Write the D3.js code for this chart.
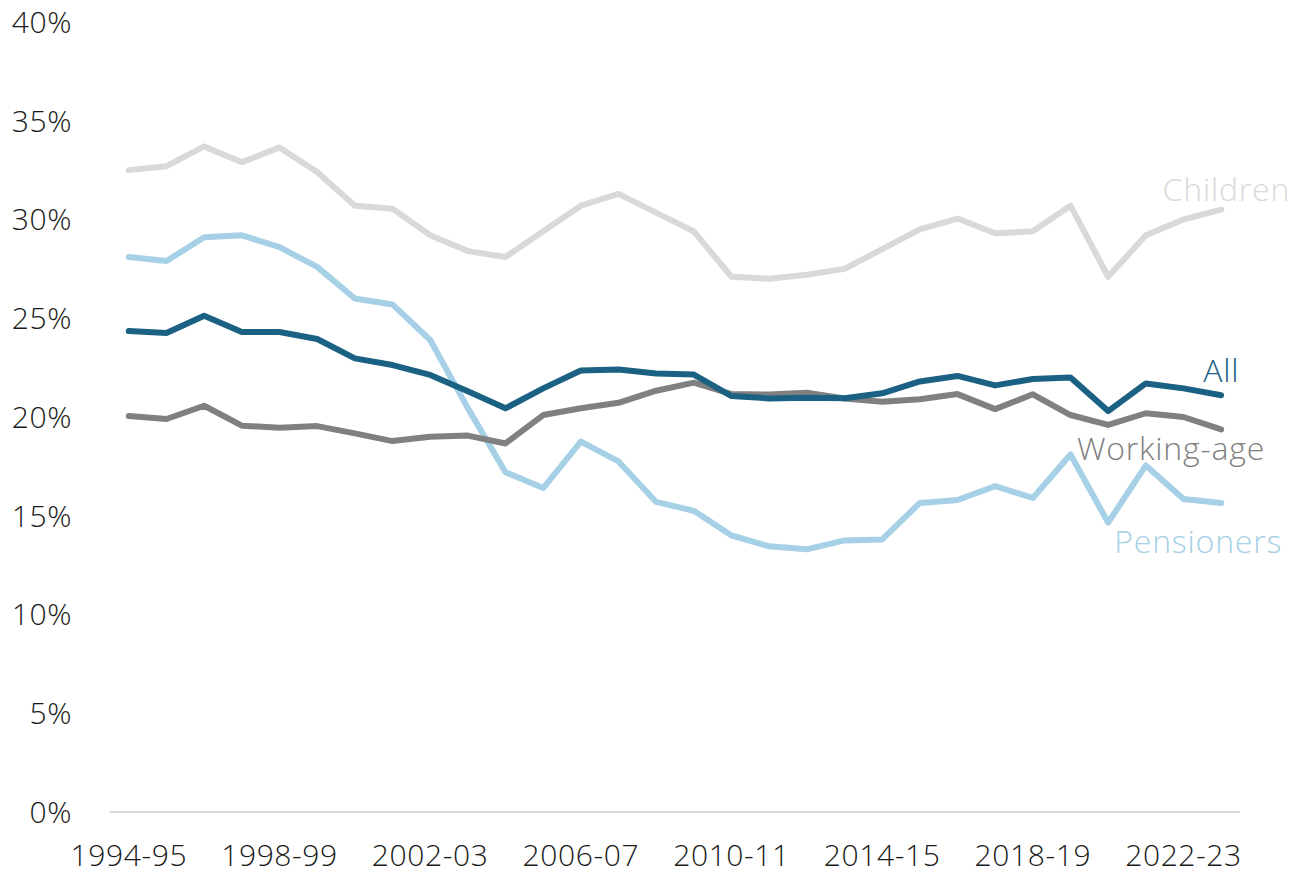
<!DOCTYPE html>
<html>
<head>
<meta charset="utf-8">
<script src="https://cdn.jsdelivr.net/npm/d3@7"></script>
<style>
  body { margin: 0; background: #fff; }
  text { font-family: "Open Sans", Lato, sans-serif; font-weight: 300; }
</style>
</head>
<body>
<div id="chart"></div>
<script>
"use strict";

// financial years
var years = ["1994-95","1995-96","1996-97","1997-98","1998-99","1999-00","2000-01","2001-02",
  "2002-03","2003-04","2004-05","2005-06","2006-07","2007-08","2008-09","2009-10","2010-11",
  "2011-12","2012-13","2013-14","2014-15","2015-16","2016-17","2017-18","2018-19","2019-20",
  "2020-21","2021-22","2022-23","2023-24"];

var tickYears = ["1994-95","1998-99","2002-03","2006-07","2010-11","2014-15","2018-19","2022-23"];
var yTicks = [0, 5, 10, 15, 20, 25, 30, 35, 40];

var children = [32.5,32.7,33.7,32.9,33.65,32.4,30.7,30.55,29.2,28.4,28.1,29.4,30.7,31.3,30.35,29.4,
  27.1,27.0,27.2,27.5,28.5,29.5,30.05,29.3,29.4,30.7,27.1,29.2,30.0,30.5];
var all = [24.35,24.25,25.13,24.3,24.3,23.95,22.97,22.63,22.13,21.3,20.44,21.45,22.35,22.4,22.2,22.15,
  21.06,20.94,20.97,20.95,21.2,21.8,22.08,21.6,21.92,22.0,20.3,21.7,21.45,21.1];
var workingAge = [20.05,19.9,20.57,19.56,19.46,19.54,19.17,18.78,19.0,19.06,18.66,20.1,20.44,20.72,21.33,21.74,
  21.16,21.14,21.23,20.94,20.77,20.9,21.16,20.4,21.15,20.1,19.6,20.19,20.0,19.37];
var pensioners = [28.1,27.9,29.1,29.2,28.6,27.6,26.0,25.7,23.9,20.45,17.2,16.4,18.75,17.75,15.7,15.25,
  14.0,13.45,13.3,13.75,13.8,15.65,15.8,16.5,15.9,18.1,14.65,17.55,15.85,15.65];

var series = [
  {name: "Children", values: children, color: "#d9d9d9", dx: 69, dy: -9, anchor: "end"},
  {name: "Pensioners", values: pensioners, color: "#a6d0e6", dx: 61, dy: 50, anchor: "end"},
  {name: "Working-age", values: workingAge, color: "#808080", dx: 44, dy: 31, anchor: "end"},
  {name: "All", values: all, color: "#1a6184", dx: -18, dy: -13, anchor: "start"}
];

var width = 1303, height = 874;
var margin = {top: 22, right: 63, bottom: 62, left: 110};

var svg = d3.select("#chart").append("svg")
    .attr("width", width)
    .attr("height", height);

var x = d3.scalePoint()
    .domain(years)
    .range([margin.left, width - margin.right])
    .padding(0.5);

var y = d3.scaleLinear()
    .domain([0, 40])
    .range([height - margin.bottom, margin.top]);

// baseline
svg.append("line")
    .attr("x1", margin.left)
    .attr("x2", width - margin.right)
    .attr("y1", y(0))
    .attr("y2", y(0))
    .attr("stroke", "#d9d9d9")
    .attr("stroke-width", 2);

// y labels
svg.selectAll(".ylab")
    .data(yTicks)
  .enter().append("text")
    .attr("class", "ylab")
    .attr("x", 72)
    .attr("y", function(d) { return y(d); })
    .attr("dy", "0.36em")
    .attr("text-anchor", "end")
    .attr("font-size", 30)
    .attr("letter-spacing", 0.6)
    .attr("fill", "#1a1a1a")
    .text(function(d) { return d + "%"; });

// x labels
svg.selectAll(".xlab")
    .data(tickYears)
  .enter().append("text")
    .attr("class", "xlab")
    .attr("x", function(d) { return x(d); })
    .attr("y", 866)
    .attr("text-anchor", "middle")
    .attr("font-size", 30)
    .attr("letter-spacing", 0.6)
    .attr("fill", "#1a1a1a")
    .text(function(d) { return d; });

var line = d3.line()
    .x(function(d, i) { return x(years[i]); })
    .y(function(d) { return y(d); });

series.forEach(function(s) {
  svg.append("path")
      .datum(s.values)
      .attr("fill", "none")
      .attr("stroke", s.color)
      .attr("stroke-width", 6)
      .attr("stroke-linejoin", "round")
      .attr("stroke-linecap", "round")
      .attr("d", line);

  var last = s.values.length - 1;
  svg.append("text")
      .attr("x", x(years[last]) + s.dx)
      .attr("y", y(s.values[last]) + s.dy)
      .attr("text-anchor", s.anchor)
      .attr("font-size", 32)
      .attr("letter-spacing", 0.8)
      .attr("font-weight", 400)
      .attr("fill", s.color)
      .text(s.name);
});
</script>
</body>
</html>
